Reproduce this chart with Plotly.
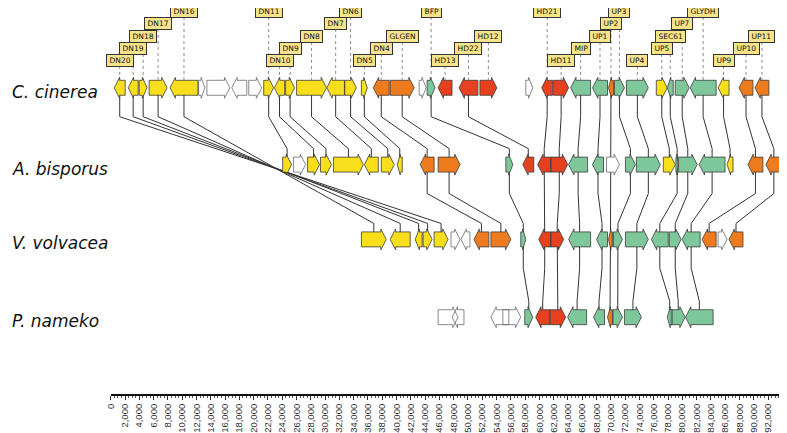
import plotly.graph_objects as go

# ---------------- data ----------------
genomes = ["C. cinerea", "A. bisporus", "V. volvacea", "P. nameko"]

# C. cinerea genes (bp)
cc_start = [490, 2440, 3980, 5370, 8300, 12300, 13460, 16950, 19320, 21410, 22900, 24480, 26010,
            30250, 32760, 35080, 36750, 39120, 43170, 44280, 45820, 48750, 51670, 58090, 60320,
            61990, 64370, 67430, 69670, 70500, 72180, 76360, 77900, 79010, 81100, 85010, 87940, 90170]
cc_end = [2020, 3840, 5090, 7880, 12200, 13180, 16670, 19040, 21130, 22800, 24340, 25730, 30200,
          32710, 34380, 35910, 38980, 42470, 44140, 45400, 47770, 51390, 54040, 59070, 61850,
          64090, 67160, 69530, 70360, 71900, 75240, 77890, 78730, 80960, 84730, 86540, 89890, 92120]
cc_strand = [-1, -1, 1, 1, -1, 1, 1, -1, 1, 1, -1, 1, 1, -1, 1, 1, -1, 1, 1, 1, -1, -1, 1, 1, -1,
             1, -1, -1, -1, 1, 1, 1, -1, 1, -1, -1, -1, -1]
cc_class = ["Y", "Y", "Y", "Y", "Y", "W", "W", "W", "W", "Y", "Y", "Y", "Y", "Y", "Y", "Y", "O", "O",
            "W", "G", "R", "R", "R", "W", "R", "R", "G", "G", "O", "G", "G", "Y", "G", "G", "G", "Y",
            "O", "O"]

# A. bisporus genes
ab_start = [24060, 25590, 27550, 29360, 31170, 35500, 37870, 40100, 43310, 45820, 55300, 57670,
            59760, 61600, 64090, 67430, 69390, 72040, 73570, 77340, 79100, 79450, 82360, 86260,
            89190, 91700]
ab_end = [25310, 27270, 29220, 30890, 35360, 37450, 39680, 40800, 45260, 48890, 56280, 59210,
          61580, 63950, 66740, 68970, 71200, 73430, 76920, 79010, 79450, 82080, 85980, 87100,
          91280, 93930]
ab_strand = [1, 1, 1, 1, 1, -1, 1, -1, -1, 1, 1, -1, -1, 1, -1, -1, 1, 1, 1, 1, 1, 1, -1, -1, -1, -1]
ab_class = ["Y", "W", "Y", "Y", "Y", "Y", "Y", "Y", "O", "O", "G", "R", "R", "R", "G", "G", "W",
            "G", "G", "Y", "G", "G", "G", "Y", "O", "O"]

# V. volvacea genes
vv_start = [35080, 39120, 42610, 43720, 45260, 47630, 49020, 50840, 53210, 57390, 59900, 61600,
            64090, 67990, 69670, 70360, 72040, 75670, 78180, 79980, 82780, 85010, 86540]
vv_end = [38560, 41910, 43580, 44980, 47210, 48890, 50280, 52930, 56000, 58090, 61580, 63390,
          67160, 69530, 70220, 71620, 75240, 78030, 79840, 82500, 84730, 86260, 88490]
vv_strand = [1, -1, -1, 1, 1, 1, -1, -1, 1, 1, -1, 1, -1, -1, -1, 1, 1, -1, 1, -1, -1, 1, -1]
vv_class = ["Y", "Y", "Y", "Y", "Y", "W", "W", "O", "O", "G", "R", "R", "G", "G", "O", "G", "G",
            "G", "G", "G", "O", "W", "O"]

# P. nameko genes
pn_start = [45820, 47780, 53210, 54880, 57950, 59480, 61500, 63950, 67570, 69530, 70300, 71900,
            77890, 78450, 80450]
pn_end = [48610, 49440, 55720, 57390, 59070, 61440, 63670, 66600, 69110, 70220, 71620, 74270,
          78590, 80400, 84310]
pn_strand = [1, -1, -1, 1, 1, -1, 1, -1, -1, -1, 1, 1, -1, 1, -1]
pn_class = ["W", "W", "W", "W", "G", "R", "R", "G", "G", "O", "G", "G", "G", "G", "G"]

# ortholog links: (genome, gene index) -> (genome, gene index)
link_src_row = [0]*5 + [0]*24 + [0] + [1]*14 + [2]*11
link_src_gene = [0, 1, 2, 3, 4,
                 9, 10, 11, 12, 13, 14, 15, 16, 17, 19, 21, 24, 25, 26, 27, 29, 30, 31, 32, 33, 34, 35, 36, 37,
                 28,
                 8, 9, 10, 12, 13, 14, 15, 17, 18, 20, 21, 22, 24, 25,
                 9, 10, 11, 12, 13, 14, 15, 16, 17, 18, 19]
link_dst_row = [2]*5 + [1]*24 + [2] + [2]*14 + [3]*11
link_dst_gene = [4, 3, 2, 1, 0,
                 0, 2, 3, 4, 5, 6, 7, 8, 9, 10, 11, 12, 13, 14, 15, 17, 18, 19, 20, 21, 22, 23, 24, 25,
                 14,
                 7, 8, 9, 10, 11, 12, 13, 15, 16, 17, 18, 19, 20, 22,
                 4, 5, 6, 7, 8, 9, 10, 11, 12, 13, 14]

# gene name labels on C. cinerea
label_text = ["DN20", "DN19", "DN18", "DN17", "DN16", "DN11", "DN10", "DN9", "DN8", "DN7", "DN6",
              "DN5", "DN4", "GLGEN", "BFP", "HD13", "HD22", "HD12", "HD21", "HD11", "MIP", "UP1",
              "UP2", "UP3", "UP4", "UP5", "SEC61", "UP7", "GLYDH", "UP9", "UP10", "UP11"]
label_gene = [0, 1, 2, 3, 4, 9, 10, 11, 12, 13, 14, 15, 16, 17, 19, 20, 21, 22, 24, 25, 26, 27,
              28, 29, 30, 31, 32, 33, 34, 35, 36, 37]
label_tier = [4, 3, 2, 1, 0, 0, 4, 3, 2, 1, 0, 4, 3, 2, 0, 4, 3, 2, 0, 4, 3, 2, 1, 0, 4, 3, 2, 1,
              0, 4, 3, 2]

ruler_vals = list(range(0, 92001, 2000))
ruler_text = ["0", "2,000", "4,000", "6,000", "8,000", "10,000", "12,000", "14,000", "16,000",
              "18,000", "20,000", "22,000", "24,000", "26,000", "28,000", "30,000", "32,000",
              "34,000", "36,000", "38,000", "40,000", "42,000", "44,000", "46,000", "48,000",
              "50,000", "52,000", "54,000", "56,000", "58,000", "60,000", "62,000", "64,000",
              "66,000", "68,000", "70,000", "72,000", "74,000", "76,000", "78,000", "80,000",
              "82,000", "84,000", "86,000", "88,000", "90,000", "92,000"]

# ---------------- layout constants ----------------
OFF = 8                      # page body margin of the browser
W, H = 787 - OFF, 433 - OFF
PLOT_H = 395 - OFF
X0PX = 105.5 - OFF
PX_PER_BP = 0.00720
RULER_END_PX = 779 - OFF
ROW_Y = [88 - OFF, 165 - OFF, 240 - OFF, 318 - OFF]
TIER_Y = [t - OFF for t in (12, 24, 37, 49, 61)]
BODY = 7.5
HEAD_H = 10.5
HEAD_BP = 750
SRC_BEND = 29
DST_BEND = 16

FILL = {"Y": "#F9DE1C", "O": "#EF7B1F", "R": "#E5411E", "G": "#7EC79B", "W": "#FFFFFF"}
EDGE = {"Y": "#3b3b3b", "O": "#3b3b3b", "R": "#3b3b3b", "G": "#3b3b3b", "W": "#6b6b6b"}

tables = [(cc_start, cc_end, cc_strand, cc_class),
          (ab_start, ab_end, ab_strand, ab_class),
          (vv_start, vv_end, vv_strand, vv_class),
          (pn_start, pn_end, pn_strand, pn_class)]


def center(r, i):
    s, e = tables[r][0][i], tables[r][1][i]
    return (s + e) / 2


def arrow(s, e, d, yc):
    L = e - s
    hd = min(HEAD_BP, 0.6 * L)
    if d > 0:
        xs = [s, e - hd, e - hd, e, e - hd, e - hd, s, s]
    else:
        xs = [e, s + hd, s + hd, s, s + hd, s + hd, e, e]
    ys = [yc - BODY, yc - BODY, yc - HEAD_H, yc, yc + HEAD_H, yc + BODY, yc + BODY, yc - BODY]
    return xs, ys


fig = go.Figure()

# links
lx, ly = [], []
for sr, sg, dr, dg in zip(link_src_row, link_src_gene, link_dst_row, link_dst_gene):
    xs, xt = center(sr, sg), center(dr, dg)
    ys, yt = ROW_Y[sr], ROW_Y[dr]
    lx += [xs, xs, xt, xt, None]
    ly += [ys, ys + SRC_BEND, yt - DST_BEND, yt, None]
fig.add_trace(go.Scatter(x=lx, y=ly, mode="lines", line=dict(color="#333333", width=1),
                         hoverinfo="skip", showlegend=False))

# label leader lines
dx, dy = [], []
for g, t in zip(label_gene, label_tier):
    c = center(0, g)
    dx += [c, c, None]
    dy += [TIER_Y[t] + 5, ROW_Y[0] - 8, None]
fig.add_trace(go.Scatter(x=dx, y=dy, mode="lines", line=dict(color="#8a8a8a", width=1, dash="dot"),
                         hoverinfo="skip", showlegend=False))

# genes
for cls in ["W", "Y", "O", "R", "G"]:
    gx, gy = [], []
    for r, (st, en, sd, cl) in enumerate(tables):
        for s, e, d, c in zip(st, en, sd, cl):
            if c != cls:
                continue
            xs, ys = arrow(s, e, d, ROW_Y[r])
            gx += xs + [None]
            gy += ys + [None]
    fig.add_trace(go.Scatter(x=gx, y=gy, mode="lines", fill="toself", fillcolor=FILL[cls],
                             line=dict(color=EDGE[cls], width=0.8), hoverinfo="skip",
                             showlegend=False))

# ruler dummy trace
fig.add_trace(go.Scatter(x=[0], y=[PLOT_H], xaxis="x2", yaxis="y", mode="markers",
                         marker=dict(opacity=0), hoverinfo="skip", showlegend=False))

annotations = []
for txt, g, t in zip(label_text, label_gene, label_tier):
    annotations.append(dict(x=center(0, g), y=TIER_Y[t], xref="x", yref="y",
                            text="\u2009" + txt + "\u2009",
                            showarrow=False, bgcolor="#F5E48A", bordercolor="#333333",
                            borderwidth=1, borderpad=1,
                            font=dict(family="DejaVu Sans, Arial", size=7.5, color="#111")))
for r, name in enumerate(genomes):
    annotations.append(dict(x=0.0, xref="paper", y=ROW_Y[r] + 4, yref="y", xshift=-4,
                            text="<i>" + name + "</i>", showarrow=False, xanchor="left",
                            font=dict(family="DejaVu Sans, Arial", size=17, color="#111")))

fig.update_layout(
    width=W, height=H,
    margin=dict(l=0, r=0, t=0, b=H - PLOT_H),
    paper_bgcolor="white", plot_bgcolor="rgba(0,0,0,0)",
    xaxis=dict(domain=[0, 1], range=[-X0PX / PX_PER_BP, (W - X0PX) / PX_PER_BP], visible=False),
    xaxis2=dict(domain=[X0PX / W, RULER_END_PX / W],
                range=[0, (RULER_END_PX - X0PX) / PX_PER_BP], anchor="y",
                showline=True, linecolor="#111", linewidth=2, ticks="outside", ticklen=4,
                tickcolor="#333", tickmode="array", tickvals=ruler_vals, ticktext=ruler_text,
                tickangle=-90, tickfont=dict(family="Liberation Sans, Arial", size=9.5, color="#333"),
                showgrid=False, zeroline=False,
                minor=dict(tickmode="linear", tick0=0, dtick=500, ticks="outside", ticklen=2,
                           tickcolor="#555", showgrid=False)),
    yaxis=dict(domain=[0, 1], range=[PLOT_H, 0], visible=False),
    annotations=annotations,
)

fig.write_html("out.html")
